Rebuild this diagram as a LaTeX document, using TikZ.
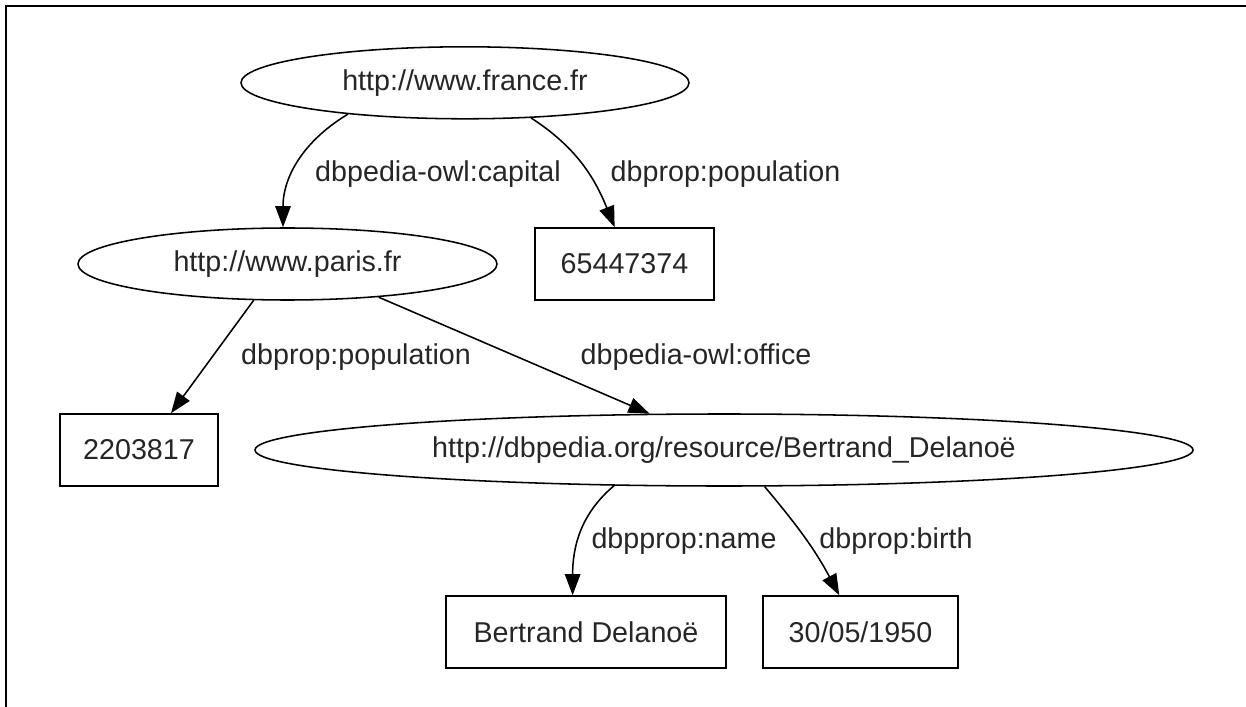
\documentclass[tikz,border=0pt]{standalone}
\usepackage{fontspec}
\setmainfont{Liberation Sans}
\usetikzlibrary{shapes.geometric,arrows.meta}
\begin{document}
\begin{tikzpicture}[font=\fontsize{20.4}{24}\selectfont, text=black!85]
        \tikzstyle{res}=[draw, ellipse, line width=1.1pt, inner sep=0pt, minimum height=1.8cm]
        \tikzstyle{lit}=[draw, rectangle, line width=1.1pt, inner sep=0pt, minimum height=1.8cm]
        \tikzstyle{prop}=[-{Triangle[length=15pt,width=11pt]}, line width=1.1pt]
            \useasboundingbox (0,0) rectangle (31.15,-17.675);
            \draw[line width=1.4pt] (0.16,-17.675) -- (0.16,-0.16) -- (31.15,-0.16);
            \node[res, minimum width=11.2cm] (france) at (11.625,-2.07) {http://www.france.fr};
            \node[res, minimum width=10.475cm] (paris) at (7.1875,-6.6) {http://www.paris.fr};
            \node[lit, minimum width=4.475cm] (popfr) at (15.6125,-6.6) {65447374};
            \node[lit, minimum width=3.95cm] (poppa) at (3.475,-11.25) {2203817};
            \node[res, minimum width=23.45cm] (bd) at (18.1,-11.25) {http://dbpedia.org/resource/Bertrand\_Delanoë};
            \node[lit, minimum width=7cm] (name) at (14.65,-15.8) {Bertrand Delanoë};
            \node[lit, minimum width=4.875cm] (birth) at (21.5125,-15.8) {30/05/1950};
            \draw[prop] (france.-165) to[out=-149, in=90] (paris.97);
            \draw[prop] (france.-28) to[out=-33, in=112] (popfr.105);
            \draw[prop] (paris.-133) -- (poppa.49);
            \draw[prop] (paris.-20) -- (bd.154);
            \draw[prop] (bd.-162) to[out=-140, in=90] (name.110);
            \draw[prop] (bd.-42) to[out=-50, in=118] (birth.120);
            \node[anchor=base] (l1) at (10.95,-4.55) {dbpedia-owl:capital};
            \node[anchor=base] (l2) at (18.1375,-4.55) {dbprop:population};
            \node[anchor=base] (l3) at (8.9,-9.1) {dbprop:population};
            \node[anchor=base] (l4) at (17.4,-9.1) {dbpedia-owl:office};
            \node[anchor=base] (l5) at (17.1,-13.7) {dbpprop:name};
            \node[anchor=base] (l6) at (22.4,-13.7) {dbprop:birth};
        \end{tikzpicture}
\end{document}
